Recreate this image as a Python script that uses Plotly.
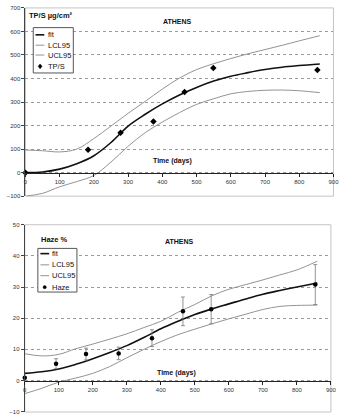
import plotly.graph_objects as go

W, H = 346, 415

# ---------------- data ----------------
curve_days = [0, 50, 100, 150, 200, 250, 300, 350, 400, 450, 500, 550, 600, 650, 700, 750, 800, 860]

tps_fit = [0, 3, 15, 38, 72, 128, 198, 248, 292, 330, 362, 389, 410, 425, 438, 448, 455, 462]
tps_ucl = [96, 93, 88, 100, 145, 198, 252, 303, 355, 402, 438, 463, 485, 505, 523, 541, 560, 582]
tps_lcl = [-100, -88, -60, -38, -12, 45, 112, 170, 215, 255, 290, 314, 335, 345, 350, 351, 348, 340]
tps_days = [0, 183, 278, 374, 465, 549, 853]
tps_vals = [0, 97, 169, 217, 343, 445, 436]

haze_fit = [2.3, 2.8, 3.7, 5.2, 7.0, 9.0, 11.2, 13.8, 16.6, 19.0, 21.2, 23.0, 24.6, 26.2, 27.7, 28.9, 30.0, 31.3]
haze_ucl = [8.6, 7.9, 8.4, 10.2, 11.7, 13.3, 15.0, 17.0, 19.0, 21.9, 24.4, 27.2, 29.3, 30.8, 32.3, 33.9, 35.5, 38.3]
haze_lcl = [-4.2, -2.5, -0.5, 0.8, 2.3, 4.5, 7.3, 10.0, 12.5, 14.7, 16.5, 18.2, 19.8, 21.3, 22.8, 23.8, 24.1, 24.2]
haze_days = [0, 92, 180, 276, 374, 465, 548, 854]
haze_vals = [0.9, 5.4, 8.5, 8.7, 13.6, 22.2, 22.9, 30.8]
haze_err = [0, 1.6, 1.9, 2.0, 2.7, 4.6, 4.7, 6.4]

x_ticks = list(range(0, 901, 100))
tps_ticks = list(range(-100, 701, 100))
haze_ticks = list(range(-10, 51, 10))

legend_top = ["fit", "LCL95", "UCL95", "TP/S"]
legend_bot = ["fit", "LCL95", "UCL95", "Haze"]

# ---------------- layout helpers ----------------
def px(x):
    return x / W

def py(y):
    return 1 - y / H

FONT = "Liberation Sans, Arial, sans-serif"
FIT_C = "#111111"
BAND_C = "#939393"

top_xd = [px(24), px(339.3)]
top_yd = [py(196), py(5)]
top_rng = [-100, 700]
bot_xd = [px(23.3), px(336.7)]
bot_yd = [0.0, py(225)]
bot_rng = [-10.1, 50]

def zero_pos(dom, rng):
    return dom[0] + (0 - rng[0]) / (rng[1] - rng[0]) * (dom[1] - dom[0])

fig = go.Figure()

# top chart
fig.add_trace(go.Scatter(x=curve_days, y=tps_ucl, mode="lines", line=dict(color=BAND_C, width=1, shape="spline"), xaxis="x", yaxis="y"))
fig.add_trace(go.Scatter(x=curve_days, y=tps_lcl, mode="lines", line=dict(color=BAND_C, width=1, shape="spline"), xaxis="x", yaxis="y"))
fig.add_trace(go.Scatter(x=curve_days, y=tps_fit, mode="lines", line=dict(color=FIT_C, width=1.6, shape="spline"), xaxis="x", yaxis="y"))
fig.add_trace(go.Scatter(x=tps_days, y=tps_vals, mode="markers", marker=dict(symbol="diamond", size=5, color="#000"), xaxis="x", yaxis="y", cliponaxis=False))

# bottom chart
fig.add_trace(go.Scatter(x=curve_days, y=haze_ucl, mode="lines", line=dict(color=BAND_C, width=1, shape="spline"), xaxis="x2", yaxis="y2"))
fig.add_trace(go.Scatter(x=curve_days, y=haze_lcl, mode="lines", line=dict(color=BAND_C, width=1, shape="spline"), xaxis="x2", yaxis="y2"))
fig.add_trace(go.Scatter(x=curve_days, y=haze_fit, mode="lines", line=dict(color=FIT_C, width=1.6, shape="spline"), xaxis="x2", yaxis="y2"))
fig.add_trace(go.Scatter(x=haze_days, y=haze_vals, mode="markers",
                         marker=dict(symbol="circle", size=4.5, color="#000"),
                         error_y=dict(type="data", array=haze_err, visible=True, color="#777", thickness=0.8, width=2),
                         xaxis="x2", yaxis="y2", cliponaxis=False))

tick_font = dict(family=FONT, size=6, color="#333")

def xaxis_cfg(dom, pos):
    return dict(domain=dom, range=[0, 900], anchor="free", position=pos, tickvals=x_ticks,
                showline=True, linecolor="#222", linewidth=1, ticks="outside", ticklen=3,
                tickcolor="#222", tickfont=tick_font, showgrid=False, zeroline=False, fixedrange=True)

def yaxis_cfg(dom, rng, ticks, anchor):
    return dict(domain=dom, range=rng, anchor=anchor, tickvals=ticks, showline=True, linecolor="#444",
                linewidth=1, ticks="outside", ticklen=3, tickcolor="#444", tickfont=tick_font,
                showgrid=True, gridcolor="#9a9a9a", griddash="dot", gridwidth=0.8,
                zeroline=False, fixedrange=True)

fig.update_layout(
    width=W, height=H, margin=dict(l=0, r=0, t=0, b=0),
    paper_bgcolor="white", plot_bgcolor="white", showlegend=False,
    xaxis=xaxis_cfg(top_xd, zero_pos(top_yd, top_rng)),
    yaxis=yaxis_cfg(top_yd, top_rng, tps_ticks, "x"),
    xaxis2=xaxis_cfg(bot_xd, zero_pos(bot_yd, bot_rng)),
    yaxis2=yaxis_cfg(bot_yd, bot_rng, haze_ticks, "x2"),
)

shapes = []
# plot frames
for xr, yr in (("x domain", "y domain"), ("x2 domain", "y2 domain")):
    shapes.append(dict(type="rect", xref=xr, yref=yr, x0=0, x1=1, y0=0, y1=1,
                       line=dict(color="#c4c4c4", width=1), layer="below"))

annotations = []

def add_text(x, y, text, size, bold=False, xanchor="center"):
    annotations.append(dict(xref="paper", yref="paper", x=px(x), y=py(y), text=("<b>%s</b>" % text) if bold else text,
                            showarrow=False, xanchor=xanchor, yanchor="middle",
                            font=dict(family=FONT, size=size, color="#111")))

add_text(180, 18.3, "ATHENS", 7, bold=True)
add_text(26, 13, "TP/S µg/cm²", 7.5, bold=True, xanchor="left")
add_text(174.7, 160.7, "Time (days)", 7, bold=True)
add_text(181.5, 241.7, "ATHENS", 7, bold=True)
add_text(37.5, 240, "Haze %", 7.5, bold=True, xanchor="left")
add_text(179, 375.7, "Time (days)", 7, bold=True)

def legend(box, rows, line_x, text_x, mark_x, labels, marker):
    x0, x1, y0, y1 = box
    shapes.append(dict(type="rect", xref="paper", yref="paper", x0=px(x0), x1=px(x1), y0=py(y1), y1=py(y0),
                       line=dict(color="#555", width=1), fillcolor="white", layer="above"))
    colors = [FIT_C, BAND_C, BAND_C]
    widths = [1.6, 1, 1]
    for i, (lab, ry) in enumerate(zip(labels, rows)):
        if i < 3:
            shapes.append(dict(type="line", xref="paper", yref="paper", x0=px(line_x[0]), x1=px(line_x[1]),
                               y0=py(ry), y1=py(ry), line=dict(color=colors[i], width=widths[i])))
        else:
            r = 2.0
            if marker == "diamond":
                path = "M %f,%f L %f,%f L %f,%f L %f,%f Z" % (
                    px(mark_x), py(ry - r - 0.5), px(mark_x + r), py(ry), px(mark_x), py(ry + r + 0.5), px(mark_x - r), py(ry))
                shapes.append(dict(type="path", xref="paper", yref="paper", path=path,
                                   fillcolor="#000", line=dict(color="#000", width=0.5)))
            else:
                r = 1.6
                shapes.append(dict(type="circle", xref="paper", yref="paper", x0=px(mark_x - r), x1=px(mark_x + r),
                                   y0=py(ry + r), y1=py(ry - r), fillcolor="#000", line=dict(color="#000", width=0.5)))
        add_text(text_x, ry, lab, 7.5, xanchor="left")

legend((32, 73, 25, 71), [32.3, 42.8, 52.8, 64.3], (34.3, 43.3), 45.5, 39, legend_top, "diamond")
legend((36.7, 76.7, 249, 293.3), [254.3, 265.7, 276.7, 288.3], (39.3, 48.3), 49.5, 43.7, legend_bot, "circle")

fig.update_layout(shapes=shapes, annotations=annotations)
fig.write_html("out.html")
